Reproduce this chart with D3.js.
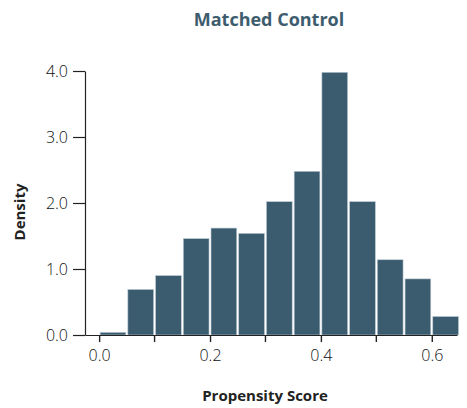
<!DOCTYPE html>
<html>
<head>
<meta charset="utf-8">
<script src="https://cdn.jsdelivr.net/npm/d3@7"></script>
<style>
  body { margin: 0; background: #fff; }
</style>
</head>
<body>
<div id="chart-container"></div>
<script>
// Histogram bins (left edges) and density values
const binStarts = [0.00, 0.05, 0.10, 0.15, 0.20, 0.25, 0.30, 0.35, 0.40, 0.45, 0.50, 0.55, 0.60];
const binWidth = 0.05;
const densities = [0.04, 0.69, 0.90, 1.46, 1.62, 1.54, 2.02, 2.48, 3.98, 2.02, 1.14, 0.85, 0.28];
const xTicks = [0.0, 0.2, 0.4, 0.6];
const xMinorTicks = [0.1, 0.3, 0.5];
const yTicks = [0, 1, 2, 3, 4];

const data = binStarts.map((x0, i) => ({ x0: x0, x1: x0 + binWidth, value: densities[i] }));

const margin = { top: 71, right: 10, bottom: 73, left: 85 };
const width = 467 - margin.left - margin.right;
const height = 408 - margin.top - margin.bottom;

const x = d3.scaleLinear()
  .domain([-0.0255, 0.6455])
  .range([0, width]);

const y = d3.scaleLinear()
  .domain([0, 4])
  .range([height, 0]);

const svg = d3.select("#chart-container")
  .append("svg")
  .attr("width", width + margin.left + margin.right)
  .attr("height", height + margin.top + margin.bottom)
  .append("g")
  .attr("transform", `translate(${margin.left},${margin.top})`);

// Bars
svg.selectAll(".bar")
  .data(data)
  .join("rect")
  .attr("class", "bar")
  .attr("x", d => x(d.x0) + 1)
  .attr("width", d => x(d.x1) - x(d.x0) - 2)
  .attr("y", d => y(d.value))
  .attr("height", d => y(0) - y(d.value))
  .attr("fill", "#3b5c6f")
  .attr("stroke", "#b9c8d2")
  .attr("stroke-width", 0.6);

const tickFont = g => g.selectAll(".tick text")
  .style("font-family", "'Open Sans', sans-serif")
  .style("font-weight", "300")
  .style("font-size", "16px")
  .style("fill", "#111");

// x axis
svg.append("g")
  .attr("transform", `translate(0,${height})`)
  .call(d3.axisBottom(x)
    .tickValues(xTicks)
    .tickFormat(d3.format(".1f"))
    .tickSize(7)
    .tickSizeOuter(0)
    .tickPadding(8))
  .call(g => g.select(".domain").attr("stroke", "#222").attr("stroke-width", 1.2))
  .call(g => g.selectAll(".tick line").attr("stroke", "#222").attr("stroke-width", 1.4))
  .call(tickFont);

// minor unlabeled x ticks
svg.append("g")
  .selectAll("line")
  .data(xMinorTicks)
  .join("line")
  .attr("x1", d => x(d))
  .attr("x2", d => x(d))
  .attr("y1", height)
  .attr("y2", height + 7)
  .attr("stroke", "#222")
  .attr("stroke-width", 1.4);

// y axis
svg.append("g")
  .call(d3.axisLeft(y)
    .tickValues(yTicks)
    .tickFormat(d3.format(".1f"))
    .tickSize(12)
    .tickSizeOuter(0)
    .tickPadding(5))
  .call(g => g.select(".domain").attr("stroke", "#222").attr("stroke-width", 1.2))
  .call(g => g.selectAll(".tick line").attr("stroke", "#222").attr("stroke-width", 1.2))
  .call(tickFont);

// Title
svg.append("text")
  .attr("x", 269 - margin.left)
  .attr("y", 26 - margin.top)
  .attr("text-anchor", "middle")
  .style("font-family", "'Open Sans', sans-serif")
  .style("font-weight", "bold")
  .style("font-size", "18px")
  .style("fill", "#3d5c6e")
  .text("Matched Control");

// x axis label
svg.append("text")
  .attr("x", 265 - margin.left)
  .attr("y", 401 - margin.top)
  .attr("text-anchor", "middle")
  .style("font-family", "'Open Sans', sans-serif")
  .style("font-weight", "bold")
  .style("font-size", "15px")
  .style("fill", "#222")
  .text("Propensity Score");

// y axis label
svg.append("text")
  .attr("transform", `translate(${25 - margin.left},${212 - margin.top}) rotate(-90)`)
  .attr("text-anchor", "middle")
  .style("font-family", "'Open Sans', sans-serif")
  .style("font-weight", "bold")
  .style("font-size", "15px")
  .style("fill", "#222")
  .text("Density");
</script>
</body>
</html>
